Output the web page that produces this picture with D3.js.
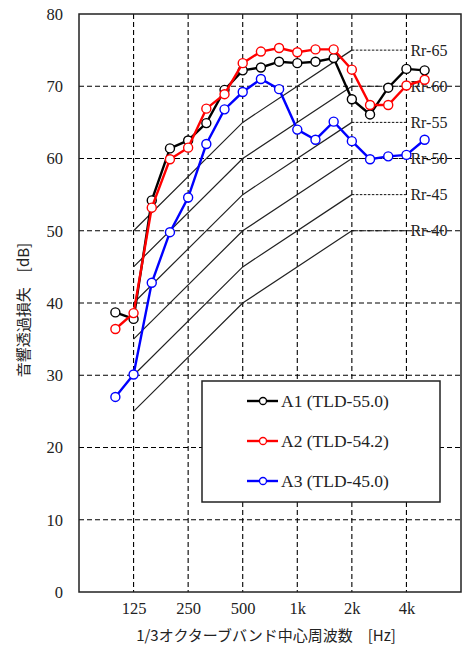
<!DOCTYPE html>
<html>
<head>
    <meta charset="utf-8" />
    <title>音響透過損失</title>
    <script src="https://d3js.org/d3.v7.min.js"></script>
    <style>
        body { margin: 0; background: #fff; }
        .serif { font-family: "Liberation Serif", "DejaVu Serif", serif; }
    </style>
</head>
<body>
    <svg class="chart"></svg>
    <script>
        // full 1/3 octave band axis (63 Hz .. 8 kHz)
        var axisBands = ["63","80","100","125","160","200","250","315","400","500","630","800",
                         "1k","1.25k","1.6k","2k","2.5k","3.15k","4k","5k","6.3k","8k"];
        var tickBands = ["125","250","500","1k","2k","4k"];
        var yTicks = [0,10,20,30,40,50,60,70,80];

        // measured bands 100 Hz .. 5 kHz
        var bands = ["100","125","160","200","250","315","400","500","630","800","1k","1.25k","1.6k","2k","2.5k","3.15k","4k","5k"];
        var a1 = [38.7,37.8,54.2,61.4,62.5,64.9,69.5,72.2,72.6,73.4,73.2,73.4,73.9,68.2,66.1,69.8,72.4,72.2];
        var a2 = [36.4,38.6,53.2,59.9,61.5,66.9,68.9,73.2,74.8,75.3,74.7,75.1,75.1,72.3,67.4,67.4,70.1,70.9];
        var a3 = [27.0,30.1,42.8,49.8,54.6,62.0,66.8,69.2,71.0,69.6,64.0,62.6,65.1,62.4,59.9,60.3,60.5,62.6];
        var seriesNames = ["A1 (TLD-55.0)","A2 (TLD-54.2)","A3 (TLD-45.0)"];
        var seriesColors = ["#000000","#ff0000","#0000ff"];

        // Rr reference curves
        var rrValues = [40,45,50,55,60,65];
        var rrBands = ["125","500","2k"];
        var rrOffsets = [-15,0,10];
        var rrEndBand = "4k";

        var svgWidth = 462, svgHeight = 646;
        var margin = {top: 14, right: 1, bottom: 54, left: 79};
        var width = svgWidth - margin.left - margin.right;
        var height = svgHeight - margin.top - margin.bottom;

        var svg = d3.select(".chart")
            .attr("width", svgWidth)
            .attr("height", svgHeight);
        var chart = svg.append("g")
            .attr("transform", "translate(" + margin.left + "," + margin.top + ")");

        var x = d3.scalePoint().domain(axisBands).range([0, width]).padding(0);
        var y = d3.scaleLinear().domain([0, 80]).range([height, 0]);

        // grid
        chart.append("g").selectAll("line")
            .data(yTicks.filter(d => d > 0 && d < 80)).enter().append("line")
            .attr("x1", 0).attr("x2", width)
            .attr("y1", d => y(d)).attr("y2", d => y(d))
            .attr("stroke", "#000").attr("stroke-width", 1.1)
            .attr("stroke-dasharray", "5,3");
        chart.append("g").selectAll("line")
            .data(tickBands).enter().append("line")
            .attr("x1", d => x(d)).attr("x2", d => x(d))
            .attr("y1", 0).attr("y2", height)
            .attr("stroke", "#000").attr("stroke-width", 1.1)
            .attr("stroke-dasharray", "5,3");

        // Rr curves
        var rrLine = d3.line().x(d => x(d.band)).y(d => y(d.value));
        var rr = chart.append("g").selectAll("g")
            .data(rrValues).enter().append("g");
        rr.append("path")
            .attr("d", v => rrLine(rrBands.map((b, i) => ({band: b, value: v + rrOffsets[i]}))))
            .attr("fill", "none").attr("stroke", "#222").attr("stroke-width", 1.2);
        rr.append("line")
            .attr("x1", x("2k")).attr("x2", x(rrEndBand))
            .attr("y1", v => y(v + 10)).attr("y2", v => y(v + 10))
            .attr("stroke", "#111").attr("stroke-width", 1)
            .attr("stroke-dasharray", "2.5,1.5");
        rr.append("text")
            .attr("class", "serif")
            .attr("x", x(rrEndBand) + 4)
            .attr("y", v => y(v + 10))
            .attr("dy", "0.35em")
            .attr("font-size", 16)
            .attr("fill", "#222")
            .text(v => "Rr-" + v);

        // series
        var seriesLine = d3.line().x((d, i) => x(bands[i])).y(d => y(d));
        [a1, a2, a3].forEach(function (data, k) {
            var g = chart.append("g");
            g.append("path")
                .attr("d", seriesLine(data))
                .attr("fill", "none")
                .attr("stroke", seriesColors[k])
                .attr("stroke-width", 2.4);
            g.selectAll("circle")
                .data(data).enter().append("circle")
                .attr("cx", (d, i) => x(bands[i]))
                .attr("cy", d => y(d))
                .attr("r", 4.5)
                .attr("fill", "#fff")
                .attr("stroke", seriesColors[k])
                .attr("stroke-width", 1.4);
        });

        // legend
        var legend = chart.append("g")
            .attr("transform", "translate(" + (202 - margin.left) + "," + (381 - margin.top) + ")");
        legend.append("rect")
            .attr("width", 238).attr("height", 121)
            .attr("fill", "#fff").attr("stroke", "#222").attr("stroke-width", 1.5);
        var item = legend.selectAll(".item")
            .data(seriesNames).enter().append("g")
            .attr("transform", (d, i) => "translate(0," + (20 + i * 40) + ")");
        item.append("line")
            .attr("x1", 45).attr("x2", 76)
            .attr("stroke", (d, i) => seriesColors[i]).attr("stroke-width", 2.4);
        item.append("circle")
            .attr("cx", 61).attr("r", 3.5)
            .attr("fill", "#fff")
            .attr("stroke", (d, i) => seriesColors[i]).attr("stroke-width", 1.3);
        item.append("text")
            .attr("class", "serif")
            .attr("x", 79).attr("dy", "0.35em")
            .attr("font-size", 17.5)
            .attr("fill", "#222")
            .text(d => d);

        // frame
        chart.append("rect")
            .attr("width", width).attr("height", height)
            .attr("fill", "none").attr("stroke", "#222").attr("stroke-width", 1.5);

        // axes
        var xAxis = d3.axisBottom(x).tickValues(tickBands).tickSize(0).tickPadding(10);
        var yAxis = d3.axisLeft(y).tickValues(yTicks).tickSize(0).tickPadding(16);
        var gx = chart.append("g")
            .attr("transform", "translate(0," + height + ")")
            .call(xAxis);
        var gy = chart.append("g").call(yAxis);
        [gx, gy].forEach(function (g) {
            g.select(".domain").remove();
            g.selectAll("text")
                .attr("class", "serif")
                .attr("font-size", 16.5)
                .attr("fill", "#222");
        });

        // axis titles
        svg.append("text")
            .attr("x", margin.left + width / 2 - 4)
            .attr("y", 641)
            .attr("text-anchor", "middle")
            .attr("font-family", "'Noto Sans CJK JP', sans-serif")
            .attr("font-size", 15)
            .attr("fill", "#222")
            .text("1/3オクターブバンド中心周波数　[Hz]");
        svg.append("text")
            .attr("transform", "translate(29," + 310 + ") rotate(-90)")
            .attr("text-anchor", "middle")
            .attr("font-family", "'Noto Sans CJK JP', sans-serif")
            .attr("font-size", 15)
            .attr("fill", "#222")
            .text("音響透過損失　[dB]");
    </script>
</body>
</html>
